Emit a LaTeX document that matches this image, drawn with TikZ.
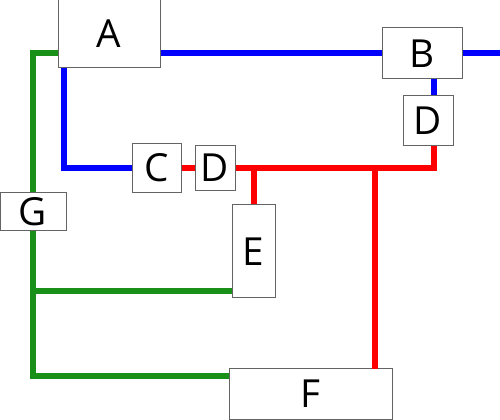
\documentclass[tikz,border=0pt]{standalone}
\usepackage{fontspec}
\setmainfont{Open Sans}
\usepackage{tikz}
\definecolor{wireblue}{RGB}{0,0,255}
\definecolor{wirered}{RGB}{255,0,0}
\definecolor{wiregreen}{RGB}{25,145,25}
\definecolor{boxgray}{RGB}{100,100,100}
\tikzset{
  unit/.style={draw=boxgray, line width=0.75pt, fill=white, inner sep=0pt,
    font=\fontsize{29}{34}\selectfont},
  bluewire/.style={wireblue, line width=4.5pt},
  redwire/.style={wirered, line width=4.5pt},
  greenwire/.style={wiregreen, line width=4.5pt}
}

\begin{document}
\begin{tikzpicture}[x=0.75pt,y=-0.75pt]
  \useasboundingbox (0,0) rectangle (500,420);
  % Units
  \node[unit, minimum width=76.5pt, minimum height=51pt] (A) at (109,34) {A};
  \node[unit, minimum width=60pt, minimum height=38.25pt] (B) at (422,53.5) {B};
  \node[unit, minimum width=36.75pt, minimum height=36.75pt] (C) at (156.5,168) {C};
  \node[unit, minimum width=30pt, minimum height=33.75pt] (D) at (215,168) {D};
  \node[unit, minimum width=37.5pt, minimum height=37.5pt] (D2) at (428,121) {D};
  \node[unit, minimum width=32.25pt, minimum height=69.75pt] (E) at (253.5,251.5) {E};
  \node[unit, minimum width=122.25pt, minimum height=37.5pt] (F) at (310.5,394) {F};
  \node[unit, minimum width=49.5pt, minimum height=28.5pt] (G) at (33,212) {G};
  % Ports
  \coordinate (ac) at (63.5,68);
  \coordinate (bd) at (433.5,79);
  \coordinate (out) at (500,53.5);
  \coordinate (eg) at (232,291.5);
  \coordinate (fg) at (229,376.5);
  \coordinate (fr) at (375,369);
  % Blue
  \draw[bluewire] (A.east |- B.west) -- (B.west);
  \draw[bluewire] (B.east) -- (out);
  \draw[bluewire] (bd) -- (D2.north -| bd);
  \draw[bluewire] (ac) |- (C.west);
  % Red
  \draw[redwire] (C.east) -- (D.west);
  \draw[redwire] (D.east) -| (D2.south -| bd);
  \draw[redwire] (E.north) -- (E.north |- D.east);
  \draw[redwire] (fr) -- (fr |- D.east);
  % Green
  \draw[greenwire] (A.west |- B.west) -| (G.north);
  \draw[greenwire] (G.south) |- (fg);
  \draw[greenwire] (eg) -- (eg -| G.south);
\end{tikzpicture}
\end{document}
